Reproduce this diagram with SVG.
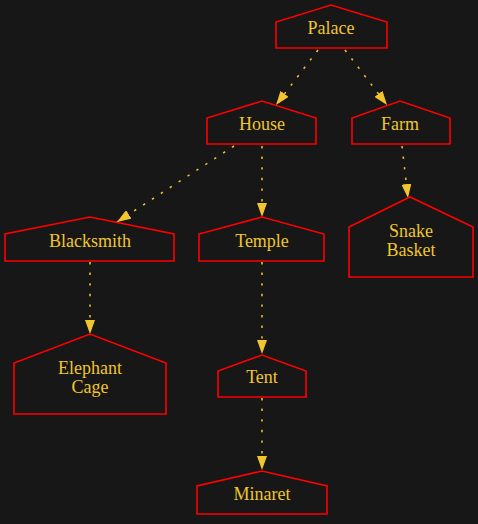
<svg xmlns="http://www.w3.org/2000/svg" width="478" height="524" viewBox="0 0 478 524">
  <style>
    .node polygon { fill: none; stroke: #ff0000; stroke-width: 1.6; }
    .node text { fill: #f0c52e; font-family: "Liberation Serif", "Times New Roman", serif; font-size: 18px; text-anchor: middle; }
    .edge { fill: none; stroke: #e8bd2c; stroke-width: 1.6; stroke-dasharray: 2.4 8.2; }
  </style>
  <defs>
    <marker id="arrow" viewBox="0 0 14 10" refX="14" refY="5" markerWidth="14" markerHeight="10" markerUnits="userSpaceOnUse" orient="auto">
      <polygon points="0,0 14,5 0,10" fill="#f0c52e"/>
    </marker>
  </defs>
  <rect width="478" height="524" fill="#171717"/>

  <g id="connectors">
    <path class="edge" d="M318,50 L276,105" marker-end="url(#arrow)"/>
    <path class="edge" d="M345,50 L387,105" marker-end="url(#arrow)"/>
    <path class="edge" d="M234,146 L117,222" marker-end="url(#arrow)"/>
    <path class="edge" d="M262,146 L262,217" marker-end="url(#arrow)"/>
    <path class="edge" d="M402,146 L408,198" marker-end="url(#arrow)"/>
    <path class="edge" d="M90,262 L90,334" marker-end="url(#arrow)"/>
    <path class="edge" d="M262,262 L262,354" marker-end="url(#arrow)"/>
    <path class="edge" d="M262,398 L262,470" marker-end="url(#arrow)"/>
  </g>

  <g id="palace" class="node">
    <polygon points="276,48 387,48 387,22 331,5 276,22"/>
    <text x="331" y="34">Palace</text>
  </g>
  <g id="house" class="node">
    <polygon points="207,144 316,144 316,118 262,101 207,118"/>
    <text x="262" y="129.5">House</text>
  </g>
  <g id="farm" class="node">
    <polygon points="352,144 450,144 450,118 400,101 352,118"/>
    <text x="400" y="129.5">Farm</text>
  </g>
  <g id="blacksmith" class="node">
    <polygon points="5,261 174,261 174,234 90,217 5,234"/>
    <text x="90" y="247">Blacksmith</text>
  </g>
  <g id="temple" class="node">
    <polygon points="199,261 324,261 324,234 262,217 199,234"/>
    <text x="262" y="247">Temple</text>
  </g>
  <g id="snake-basket" class="node">
    <polygon points="349,277 473,277 473,227 410,197 349,227"/>
    <text x="411" y="237">Snake</text>
    <text x="411" y="256">Basket</text>
  </g>
  <g id="elephant-cage" class="node">
    <polygon points="14,414 166,414 166,363 90,334 14,363"/>
    <text x="90" y="373.5">Elephant</text>
    <text x="90" y="392.5">Cage</text>
  </g>
  <g id="tent" class="node">
    <polygon points="218,397 306,397 306,371 262,355 218,371"/>
    <text x="262" y="383">Tent</text>
  </g>
  <g id="minaret" class="node">
    <polygon points="197,514 327,514 327,486 262,471 197,486"/>
    <text x="262" y="499.5">Minaret</text>
  </g>
</svg>
